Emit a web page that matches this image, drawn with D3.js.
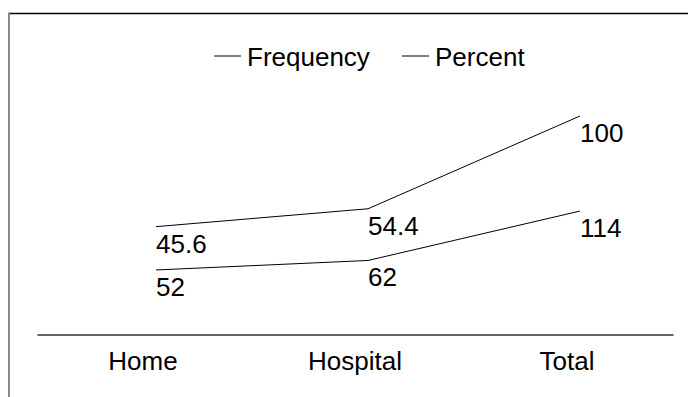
<!DOCTYPE html>
<html>
<head>
<meta charset="utf-8">
<script src="https://cdn.jsdelivr.net/npm/d3@7"></script>
<style>
  html, body { margin: 0; padding: 0; background: #fff; }
  svg { display: block; }
  text { font-family: Arimo, "Liberation Sans", Arial, sans-serif; fill: #000; }
</style>
</head>
<body>
<svg id="chart" width="688" height="397"></svg>
<script>
const categories = ["Home", "Hospital", "Total"];
const frequency = [52, 62, 114];
const percent = [45.6, 54.4, 100];
const seriesNames = ["Frequency", "Percent"];

const W = 688, H = 397;
const FS = 26;
const svg = d3.select("#chart");

// frame
svg.append("line").attr("x1", 8).attr("x2", W).attr("y1", 13.5).attr("y2", 13.5)
  .attr("stroke", "#000").attr("stroke-width", 1.3);
svg.append("line").attr("x1", 9).attr("x2", 9).attr("y1", 13).attr("y2", H)
  .attr("stroke", "#888").attr("stroke-width", 2);

const x = d3.scaleBand().domain(categories).range([37, 673]);
const y = d3.scaleLinear().domain([0, 250]).range([319.4, 81.8]);
const off = 13;
const px = c => x(c) + x.bandwidth() / 2 + off;

// stacked series
const stack1 = frequency.slice();
const stack2 = frequency.map((v, i) => v + percent[i]);

const line = d3.line().x(d => px(d.c)).y(d => y(d.v));
const s1 = categories.map((c, i) => ({ c, v: stack1[i], label: frequency[i] }));
const s2 = categories.map((c, i) => ({ c, v: stack2[i], label: percent[i] }));

[s1, s2].forEach(s => {
  svg.append("path").datum(s).attr("d", line)
    .attr("fill", "none").attr("stroke", "#000").attr("stroke-width", 1);
  svg.selectAll(null).data(s).enter().append("text")
    .attr("x", d => px(d.c)).attr("y", d => y(d.v) + 26)
    .attr("font-size", FS).text(d => d.label);
});

// category axis
const axis = d3.axisBottom(x).tickSize(0).tickPadding(17.5);
const gAx = svg.append("g").attr("transform", "translate(0,334.5)").call(axis);
gAx.select(".domain").attr("stroke", "#666").attr("stroke-width", 2);
gAx.selectAll("text").attr("font-size", FS).attr("font-family", "Arimo, Liberation Sans, Arial, sans-serif")
  .attr("dy", "0.71em").attr("fill", "#000");

// legend
const legend = [{ name: seriesNames[0], x: 214, tx: 247 }, { name: seriesNames[1], x: 402, tx: 435 }];
legend.forEach(l => {
  svg.append("line").attr("x1", l.x).attr("x2", l.x + 27).attr("y1", 56).attr("y2", 56)
    .attr("stroke", "#000").attr("stroke-width", 1);
  svg.append("text").attr("x", l.tx).attr("y", 65.5).attr("font-size", FS).text(l.name);
});
</script>
</body>
</html>
